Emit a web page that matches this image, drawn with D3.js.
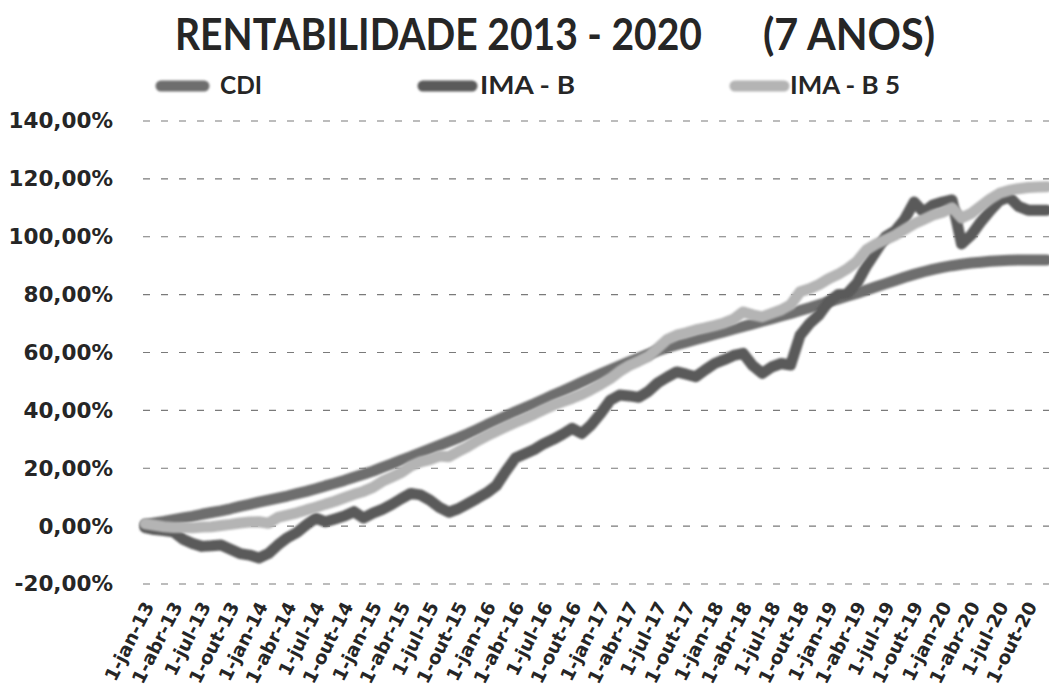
<!DOCTYPE html>
<html>
<head>
<meta charset="utf-8">
<title>Rentabilidade 2013 - 2020</title>
<script src="https://cdn.jsdelivr.net/npm/d3@7"></script>
<style>
 body { margin: 0; background: #fff; }
 svg { display: block; }
 .grid line { stroke: #7a7a7a; stroke-width: 1.2px; stroke-dasharray: 7,11; }
 .axis text { fill: #262626; font-family: "DejaVu Sans", sans-serif; font-weight: bold; }
 .title, .legend text { fill: #262626; font-family: Lato, sans-serif; font-weight: bold; }
 .serie { fill: none; stroke-linejoin: round; stroke-linecap: round; }
</style>
</head>
<body>
<script>
 var width = 1049, height = 691;

 var seriesNames = ["CDI", "IMA - B", "IMA - B 5"];
 var seriesColors = ["#6e6e6e", "#5a5a5a", "#b4b4b4"];

 var tickLabels = ["1-jan-13", "1-abr-13", "1-jul-13", "1-out-13",
                   "1-jan-14", "1-abr-14", "1-jul-14", "1-out-14",
                   "1-jan-15", "1-abr-15", "1-jul-15", "1-out-15",
                   "1-jan-16", "1-abr-16", "1-jul-16", "1-out-16",
                   "1-jan-17", "1-abr-17", "1-jul-17", "1-out-17",
                   "1-jan-18", "1-abr-18", "1-jul-18", "1-out-18",
                   "1-jan-19", "1-abr-19", "1-jul-19", "1-out-19",
                   "1-jan-20", "1-abr-20", "1-jul-20", "1-out-20"];

 var yTicks = [-20, 0, 20, 40, 60, 80, 100, 120, 140];

 // rentabilidade acumulada (%), mensal de jan-13 a dez-20
 var cdi = [0.5, 1.1, 1.6, 2.2, 2.8, 3.4, 4.1, 4.7, 5.3, 6.0, 6.8, 7.5,
            8.3, 9.0, 9.7, 10.4, 11.2, 12.0, 12.9, 13.9, 14.8, 15.8, 16.9, 17.9,
            19.0, 20.3, 21.5, 22.8, 24.0, 25.3, 26.6, 27.9, 29.2, 30.5, 31.9, 33.4,
            35.0, 36.5, 38.0, 39.5, 40.9, 42.3, 43.8, 45.3, 46.7, 48.2, 49.7, 51.2,
            52.6, 54.0, 55.4, 56.8, 58.1, 59.4, 60.6, 61.7, 62.7, 63.6, 64.5, 65.4,
            66.3, 67.2, 68.1, 69.0, 69.9, 70.8, 71.7, 72.6, 73.5, 74.5, 75.5, 76.5,
            77.5, 78.5, 79.5, 80.5, 81.6, 82.7, 83.8, 84.9, 86.0, 87.0, 87.9, 88.7,
            89.4, 90.0, 90.5, 90.9, 91.2, 91.5, 91.7, 91.9, 92.0, 92.0, 92.0, 92.0];

 var imaB = [-0.5, -1.2, -1.5, -2.0, -4.5, -6.0, -7.0, -6.8, -6.5, -8.0, -9.5, -10.0,
             -11.0, -9.5, -6.5, -4.0, -2.2, 0.5, 2.8, 1.5, 2.5, 3.5, 5.0, 2.8,
             4.5, 5.8, 7.5, 9.5, 11.3, 10.8, 9.0, 6.5, 4.8, 6.0, 7.8, 9.6,
             11.5, 14.0, 19.0, 23.5, 25.0, 26.5, 28.5, 30.0, 31.8, 33.8, 32.0, 35.0,
             39.0, 43.5, 45.3, 45.0, 44.5, 46.5, 49.5, 51.5, 53.3, 52.5, 51.6, 54.0,
             56.2, 57.5, 59.0, 59.7, 55.5, 52.8, 55.0, 56.2, 55.7, 66.0, 70.0, 73.0,
             77.5, 80.0, 80.5, 84.0, 90.0, 95.0, 100.0, 102.0, 106.0, 112.0, 108.5, 111.0,
             112.0, 112.7, 97.5, 100.5, 105.0, 109.0, 112.5, 113.8, 110.5, 109.2, 109.2, 109.2];

 var imaB5 = [0.8, 0.3, -0.2, -0.5, -0.5, -0.6, -0.3, -0.2, 0.2, 0.6, 1.1, 1.4,
              1.5, 1.0, 3.0, 3.8, 4.6, 5.6, 6.5, 7.6, 8.6, 9.8, 11.0, 12.0,
              13.4, 15.5, 17.0, 18.5, 20.8, 22.2, 23.0, 24.2, 24.0, 25.8, 27.5, 29.5,
              31.2, 32.8, 34.3, 35.8, 37.2, 38.7, 40.3, 41.8, 43.0, 44.2, 45.5, 47.2,
              49.0, 51.0, 53.5, 55.5, 57.0, 58.6, 61.5, 64.5, 66.0, 66.8, 67.8, 68.5,
              69.3, 70.2, 71.5, 74.0, 73.0, 72.3, 73.5, 74.7, 76.5, 81.0, 82.0, 83.5,
              85.5, 87.0, 89.0, 91.5, 95.5, 97.5, 99.0, 100.5, 102.5, 104.5, 106.0, 107.5,
              108.5, 110.0, 106.5, 108.0, 110.5, 113.0, 115.0, 116.0, 116.6, 117.0, 117.2, 117.3];

 var allSeries = [cdi, imaB, imaB5];

 var x = d3.scaleLinear().domain([0, cdi.length - 1]).range([145, 1047]);
 var y = d3.scaleLinear().domain([-20, 140]).range([584, 121]);

 var br = d3.formatLocale({decimal: ",", thousands: ".", grouping: [3], currency: ["R$", ""], minus: "-"});
 var pct = br.format(".2f");

 var svg = d3.select('body')
             .append('svg')
             .attr('width', width)
             .attr('height', height);

 svg.append('rect').attr('width', width).attr('height', height).attr('fill', '#fff');

 // leve desfoque, como na imagem escaneada
 svg.append('defs')
    .append('filter')
    .attr('id', 'soft')
    .attr('filterUnits', 'userSpaceOnUse')
    .attr('x', 0).attr('y', 0)
    .attr('width', width).attr('height', height)
    .append('feGaussianBlur')
    .attr('stdDeviation', 1.2);

 // titulo
 svg.append('text')
    .attr('class', 'title')
    .attr('x', 175).attr('y', 50)
    .attr('font-size', 44)
    .attr('textLength', 527).attr('lengthAdjust', 'spacingAndGlyphs')
    .text('RENTABILIDADE 2013 - 2020');
 svg.append('text')
    .attr('class', 'title')
    .attr('x', 763).attr('y', 50)
    .attr('font-size', 44)
    .attr('textLength', 172).attr('lengthAdjust', 'spacingAndGlyphs')
    .text('(7 ANOS)');

 // legenda
 var legendPos = [{x1: 161, x2: 204, tx: 220, tw: 42},
                  {x1: 423, x2: 472, tx: 480, tw: 95},
                  {x1: 735, x2: 784, tx: 790, tw: 110}];
 var legend = svg.append('g').attr('class', 'legend');
 seriesNames.forEach(function (name, i) {
     var p = legendPos[i];
     legend.append('line')
           .attr('x1', p.x1).attr('x2', p.x2)
           .attr('y1', 86).attr('y2', 86)
           .attr('stroke', seriesColors[i])
           .attr('stroke-width', 11)
           .attr('stroke-linecap', 'round')
           .attr('filter', 'url(#soft)');
     legend.append('text')
           .attr('x', p.tx).attr('y', 94)
           .attr('font-size', 25)
           .attr('textLength', p.tw).attr('lengthAdjust', 'spacingAndGlyphs')
           .text(name);
 });

 // grade
 svg.append('g')
    .attr('class', 'grid')
    .selectAll('line')
    .data(yTicks)
    .enter()
    .append('line')
    .attr('x1', 143).attr('x2', width)
    .attr('y1', d => y(d)).attr('y2', d => y(d));

 // eixo y
 var yAxis = svg.append('g')
                .attr('class', 'axis')
                .attr('transform', 'translate(113, 0)')
                .call(d3.axisLeft(y).tickValues(yTicks).tickSize(0).tickPadding(0)
                        .tickFormat(d => pct(d) + '%'));
 yAxis.select('.domain').remove();
 yAxis.selectAll('text').attr('font-size', 21.5).attr('font-family', null);

 // eixo x
 var xAxis = svg.append('g')
                .attr('class', 'axis')
                .call(d3.axisBottom(x).tickValues(d3.range(0, cdi.length, 3)).tickSize(0)
                        .tickFormat((d, i) => tickLabels[i]));
 xAxis.select('.domain').remove();
 xAxis.selectAll('text')
      .attr('font-size', 18.5)
      .attr('font-family', null)
      .attr('y', 0).attr('dy', 0)
      .attr('text-anchor', 'end')
      .attr('transform', 'translate(9, 606) rotate(-63)');

 // series
 var line = d3.line()
              .x((d, i) => x(i))
              .y(d => y(d));

 svg.append('g')
    .selectAll('path')
    .data(allSeries)
    .enter()
    .append('path')
    .attr('class', 'serie')
    .attr('d', line)
    .attr('stroke', (d, i) => seriesColors[i])
    .attr('stroke-width', 11)
    .attr('filter', 'url(#soft)');
</script>
</body>
</html>
